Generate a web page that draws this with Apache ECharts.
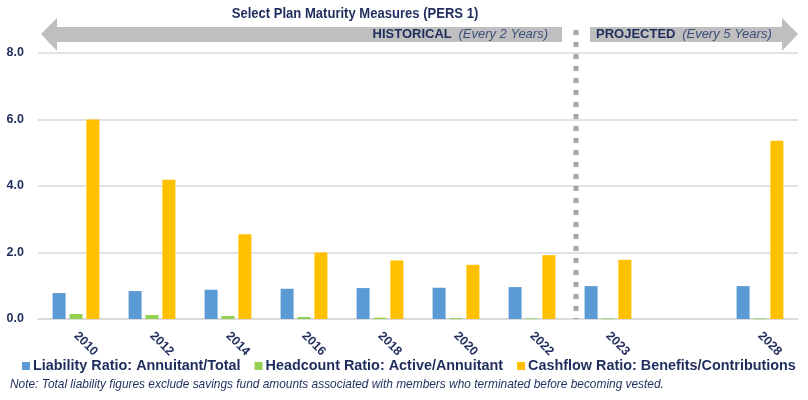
<!DOCTYPE html>
<html><head><meta charset="utf-8">
<script src="https://cdn.jsdelivr.net/npm/echarts@6/dist/echarts.min.js"></script>
<style>html,body{margin:0;padding:0;background:#fff}#c{width:808px;height:400px}</style>
</head><body><div id="c"></div>
<script>
const categories = ['2010','2012','2014','2016','2018','2020','2022','2023','','2028'];
const liability = [0.78,0.84,0.88,0.91,0.93,0.94,0.96,0.99,null,0.99];
const headcount = [0.15,0.12,0.09,0.06,0.04,0.03,0.02,0.02,null,0.02];
const cashflow  = [6.00,4.19,2.55,2.00,1.76,1.63,1.92,1.78,null,5.36];
const yTicks = [0,2,4,6,8];
const seriesNames = ['Liability Ratio: Annuitant/Total','Headcount Ratio: Active/Annuitant','Cashflow Ratio: Benefits/Contributions'];
const colors = ['#5b9bd5','#92d050','#ffc000'];

const NAVY = '#1f2d5c';
const SANS = '"Liberation Sans",Arial,sans-serif';

const chart = echarts.init(document.getElementById('c'), null, {renderer:'canvas'});
function bar(i, data){
  return {name: seriesNames[i], type:'bar', data: data, barWidth: 13, barGap: '30%',
    itemStyle:{color: colors[i]}, animation:false};
}
const option = {
  animation:false,
  color: colors,
  grid:{left:38, right:10, top:53, bottom:81, containLabel:false},
  xAxis:{type:'category', data: categories,
    axisLine:{lineStyle:{color:'#d9d9d9', width:1.5}}, axisTick:{show:false},
    axisLabel:{rotate:-45, color:NAVY, fontWeight:'bold', fontSize:12.5, fontFamily:SANS, margin:15, interval:0}},
  yAxis:{type:'value', min:0, max:8, interval:2,
    axisLine:{show:false}, axisTick:{show:false},
    splitLine:{lineStyle:{color:'#d9d9d9', width:1.5}},
    axisLabel:{formatter: v => yTicks.includes(v) ? v.toFixed(1) : '', color:NAVY, fontWeight:'bold', fontSize:12.5, fontFamily:SANS, margin:14}},
  legend:{left:17, top:354, width:800, itemWidth:8, itemHeight:8, icon:'rect', itemGap:14,
    textStyle:{color:NAVY, fontWeight:'bold', fontSize:14.4, fontFamily:SANS, padding:[0,0,0,-2]}},
  series:[bar(0, liability), bar(1, headcount), bar(2, cashflow)],
  graphic:[
    {type:'text', x:355, y:14, scaleX:0.87, style:{text:'Select Plan Maturity Measures (PERS 1)', fill:NAVY, font:'bold 15px '+SANS, align:'center', verticalAlign:'middle'}, z:10},
    {type:'polygon', shape:{points:[[41,34],[57,18],[57,27],[562,27],[562,42],[57,42],[57,51]]}, style:{fill:'#bfbfbf'}},
    {type:'polygon', shape:{points:[[590,27],[782,27],[782,18],[798,34],[782,51],[782,42],[590,42]]}, style:{fill:'#bfbfbf'}},
    {type:'text', x:548, y:34, style:{text:'{b|HISTORICAL}  {i|(Every 2 Years)}', align:'right', verticalAlign:'middle',
      rich:{b:{fill:NAVY, font:'bold 13px '+SANS}, i:{fill:'#3c4e7a', font:'italic 13px '+SANS}}}, z:10},
    {type:'text', x:596, y:34, style:{text:'{b|PROJECTED}  {i|(Every 5 Years)}', align:'left', verticalAlign:'middle',
      rich:{b:{fill:NAVY, font:'bold 13px '+SANS}, i:{fill:'#3c4e7a', font:'italic 13px '+SANS}}}, z:10},
    {type:'text', x:10, y:385, style:{text:'Note: Total liability figures exclude savings fund amounts associated with members who terminated before becoming vested.', fill:NAVY, font:'italic 11.9px '+SANS, verticalAlign:'middle'}}
  ]
};
chart.setOption(option);
const xa = chart.convertToPixel({xAxisIndex:0}, '2022');
const xb = chart.convertToPixel({xAxisIndex:0}, '2023');
const y0 = chart.convertToPixel({yAxisIndex:0}, 0);
const xd = Math.round((xa + xb) / 2) + 6;
option.graphic.push({type:'line', shape:{x1:xd, y1:30, x2:xd, y2:y0}, style:{stroke:'#a6a6a6', lineWidth:5, lineDash:[5,7]}, z:5});
chart.setOption({graphic: option.graphic});
</script></body></html>
